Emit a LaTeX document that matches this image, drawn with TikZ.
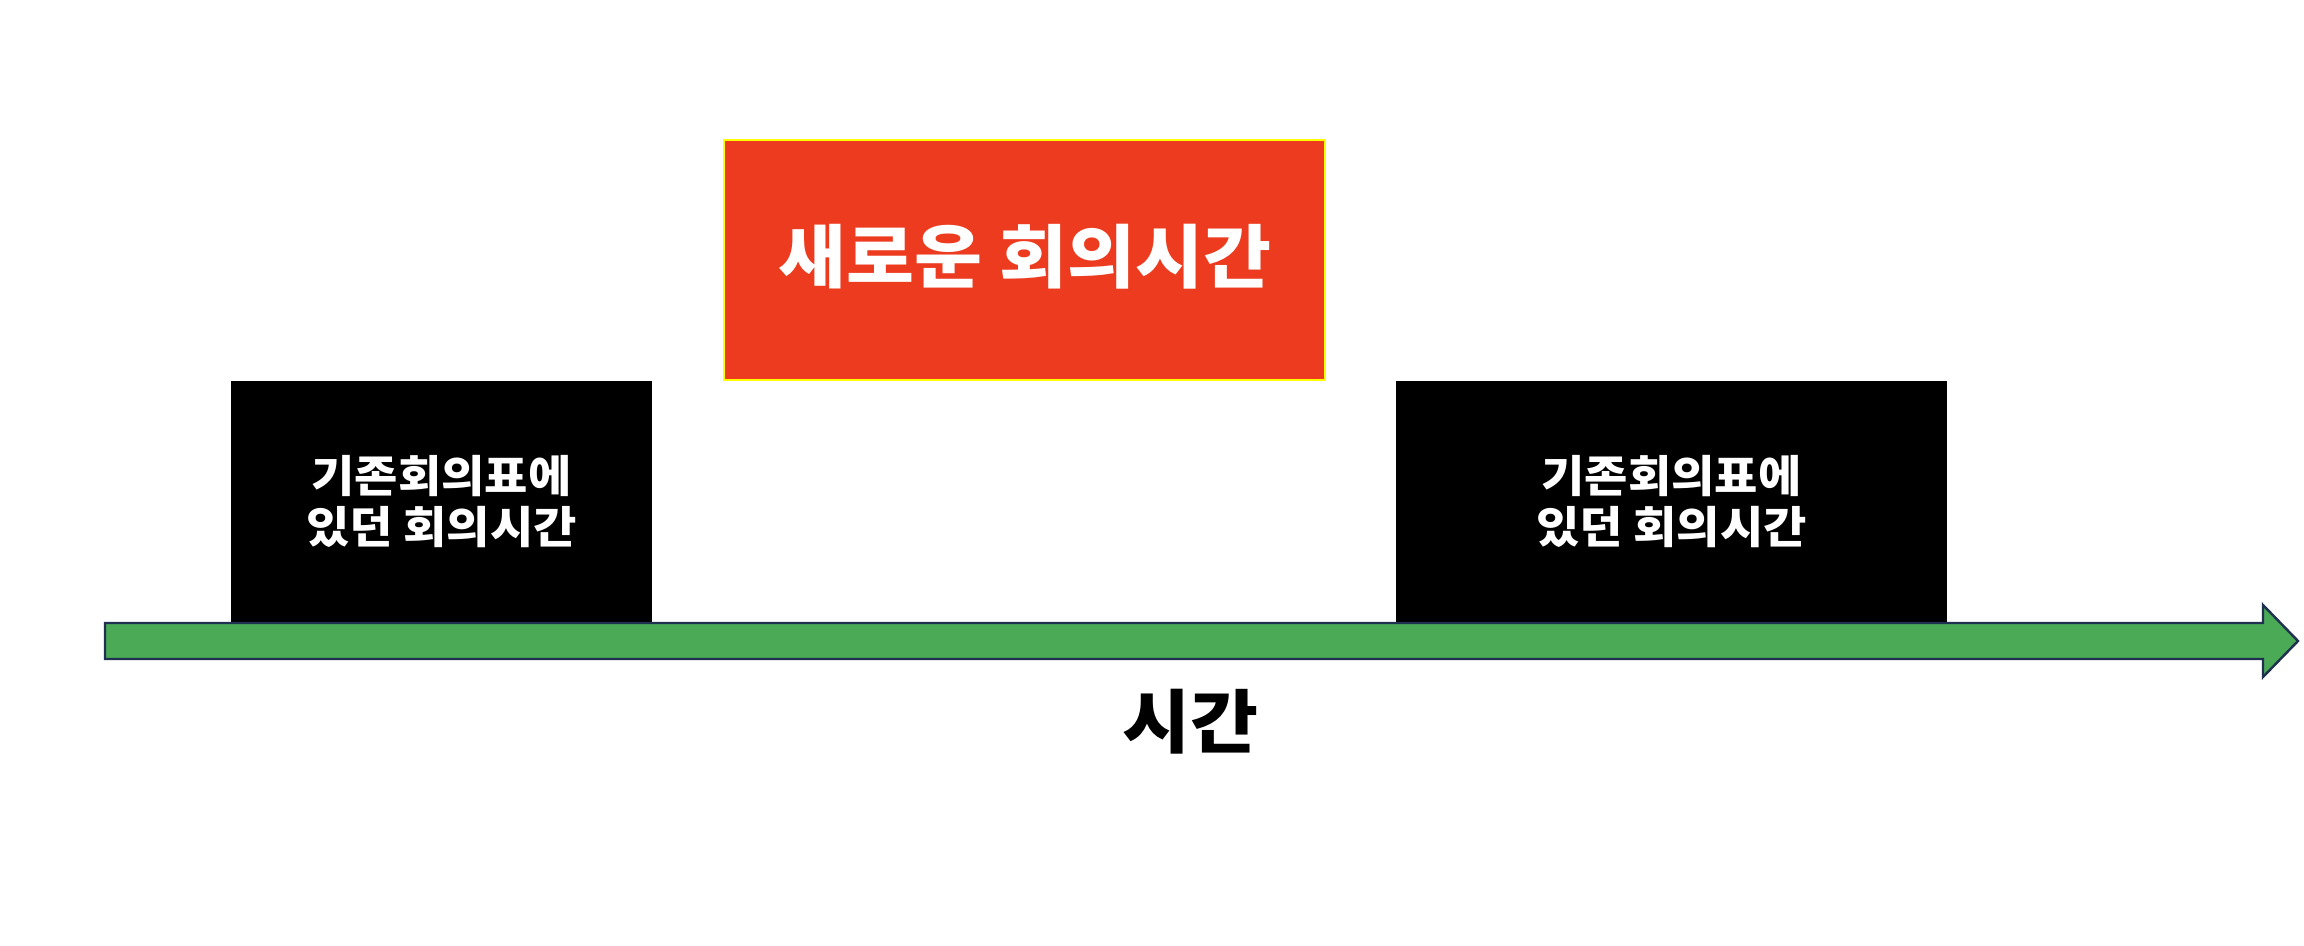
\documentclass[tikz,border=0pt]{standalone}
\usepackage{fontspec}
\newfontfamily\kr{Noto Sans CJK KR}[FakeStretch=1.07]
\definecolor{redbox}{HTML}{EC3B1E}
\definecolor{arrowgreen}{HTML}{4AAA55}
\definecolor{arrowedge}{HTML}{1F3050}
\definecolor{ybord}{HTML}{FFFF00}
\begin{document}
\begin{tikzpicture}[x=0.5pt,y=-0.5pt,
  blackbox/.style={draw=none,fill=black},
  boxtext/.style={text=white,font=\kr\bfseries\fontsize{22}{25.5}\selectfont,align=center},
  bigtext/.style={font=\kr\bfseries\fontsize{34.5}{40}\selectfont}]
\useasboundingbox (0,0) rectangle (2304,946);
\fill[white] (0,0) rectangle (2304,946);
% red box
\draw[fill=redbox,draw=ybord,line width=1pt] (724,140) rectangle (1325,380);
\node[bigtext,text=white] (newtime) at (1025,257) {새로운 회의시간};
% black boxes
\fill[blackbox] (231,381) rectangle (652,623);
\node[boxtext] (old1) at (441.5,502) {기존회의표에\\있던 회의시간};
\fill[blackbox] (1396,381) rectangle (1947,623);
\node[boxtext] (old2) at (1671.5,502) {기존회의표에\\있던 회의시간};
% arrow
\draw[fill=arrowgreen,draw=arrowedge,line width=1.2pt,line join=miter]
  (105,623) -- (2263,623) -- (2263,605) -- (2298,641) -- (2263,677) -- (2263,659) -- (105,659) -- cycle;
\node[bigtext,text=black] (label) at (1190,722) {시간};
\end{tikzpicture}
\end{document}
